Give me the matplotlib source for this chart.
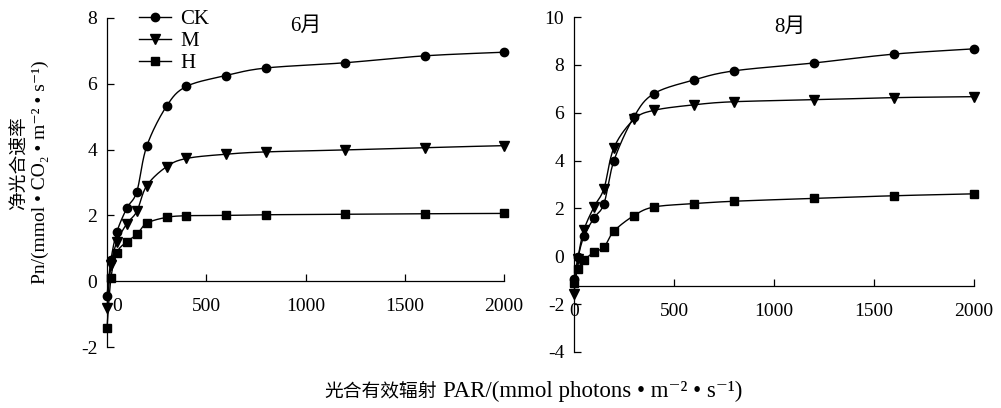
import matplotlib
matplotlib.use('Agg')

import numpy as np
import matplotlib.pyplot as plt
import matplotlib.transforms as mtransforms
from matplotlib.lines import Line2D

plt.rcParams['font.family'] = ['Liberation Serif', 'Noto Sans CJK SC', 'DejaVu Serif']
plt.rcParams['axes.unicode_minus'] = False

# ==============================
# DATA
# ==============================

PAR = [0, 20, 50, 100, 150, 200, 300, 400, 600, 800, 1200, 1600, 2000]

CK_JUN = [-0.45, 0.65, 1.5, 2.22, 2.72, 4.1, 5.32, 5.92, 6.25, 6.48, 6.64, 6.85, 6.96]
M_JUN = [-0.8, 0.48, 1.2, 1.75, 2.12, 2.9, 3.48, 3.73, 3.86, 3.93, 3.99, 4.06, 4.12]
H_JUN = [-1.42, 0.1, 0.87, 1.2, 1.42, 1.76, 1.94, 1.99, 2.0, 2.02, 2.03, 2.05, 2.06]

CK_AUG = [-0.95, -0.05, 0.84, 1.6, 2.2, 4.0, 5.83, 6.8, 7.37, 7.75, 8.08, 8.45, 8.67]
M_AUG = [-1.58, -0.1, 1.1, 2.06, 2.83, 4.54, 5.72, 6.1, 6.33, 6.46, 6.54, 6.63, 6.67]
H_AUG = [-1.1, -0.54, -0.17, 0.17, 0.38, 1.05, 1.7, 2.06, 2.2, 2.3, 2.42, 2.53, 2.61]

SERIES = ["CK", "M", "H"]
MARKERS = {"CK": "o", "M": "v", "H": "s"}
MSIZE = {"CK": 6, "M": 7, "H": 5.6}


def smooth(x, y, n=25):
    # Excel-style smoothed line: cubic Bezier with Catmull-Rom control points
    pts = np.column_stack([x, y]).astype(float)
    P = np.vstack([pts[0], pts, pts[-1]])
    t = np.linspace(0, 1, n)[:, None]
    segs = []
    for i in range(1, len(P) - 2):
        p0, p1, p2, p3 = P[i - 1], P[i], P[i + 1], P[i + 2]
        c1 = p1 + (p2 - p0) / 6
        c2 = p2 - (p3 - p1) / 6
        b = (1 - t) ** 3 * p1 + 3 * (1 - t) ** 2 * t * c1 + 3 * (1 - t) * t ** 2 * c2 + t ** 3 * p2
        segs.append(b)
    s = np.vstack(segs)
    return s[:, 0], s[:, 1]


def draw(ax, data, ylim, yticks, cross):
    for name in SERIES:
        xs, ys = smooth(PAR, data[name])
        ax.plot(xs, ys, color="black", lw=1.0, clip_on=False, zorder=2)
        ax.plot(PAR, data[name], ls="none", marker=MARKERS[name], ms=MSIZE[name],
                color="black", clip_on=False, zorder=3)
    ax.set_xlim(0, 2000)
    ax.set_ylim(*ylim)
    ax.spines["top"].set_visible(False)
    ax.spines["right"].set_visible(False)
    ax.spines["bottom"].set_position(("data", cross))
    ax.spines["bottom"].set_bounds(0, 2000)
    ax.spines["left"].set_linewidth(0.9)
    ax.spines["bottom"].set_linewidth(0.9)
    ax.set_xticks([0, 500, 1000, 1500, 2000])
    ax.set_yticks(yticks)
    ax.tick_params(direction="in", length=5, width=0.9, labelsize=14)
    ax.tick_params(axis="x", pad=12)
    ax.tick_params(axis="y", pad=7)


fig = plt.figure(figsize=(10.01, 4.08), dpi=100)
ax1 = fig.add_axes([0.1069, 0.1495, 0.3966, 0.8064])
ax2 = fig.add_axes([0.5734, 0.1373, 0.3996, 0.8210])

draw(ax1, {"CK": CK_JUN, "M": M_JUN, "H": H_JUN}, (-2, 8), range(-2, 9, 2), 0)
draw(ax2, {"CK": CK_AUG, "M": M_AUG, "H": H_AUG}, (-4, 10), range(-4, 11, 2), -1.25)

# the "0" label on the June axis sits a little to the right
lab0 = ax1.get_xticklabels()[0]
lab0.set_transform(lab0.get_transform() + mtransforms.ScaledTranslation(0.1, 0, fig.dpi_scale_trans))

ax1.text(0.50, 0.975, "6月", transform=ax1.transAxes, ha="center", va="center", fontsize=15)
ax2.text(0.54, 0.97, "8月", transform=ax2.transAxes, ha="center", va="center", fontsize=15)

handles = [Line2D([], [], color="black", lw=1.0, marker=MARKERS[n], ms=MSIZE[n]) for n in SERIES]
ax1.legend(handles, SERIES, loc="upper left", bbox_to_anchor=(0.045, 1.07), frameon=False,
           fontsize=15, handlelength=1.5, handletextpad=0.45, labelspacing=0.12, borderpad=0.2)

# axis titles: Chinese part is set a bit smaller than the Latin part
fig.text(0.020, 0.60, "净光合速率", rotation=90, ha="center", va="center", fontsize=13.5)
fig.text(0.040, 0.578, "Pn/(mmol • CO₂ • m⁻² • s⁻¹)", rotation=90, ha="center", va="center", fontsize=14)
fig.text(0.436, 0.04, "光合有效辐射", ha="right", va="center", fontsize=13.5)
fig.text(0.443, 0.04, "PAR/(mmol photons • m⁻² • s⁻¹)", ha="left", va="center", fontsize=16.5)

fig.savefig("out.png", dpi=100)
